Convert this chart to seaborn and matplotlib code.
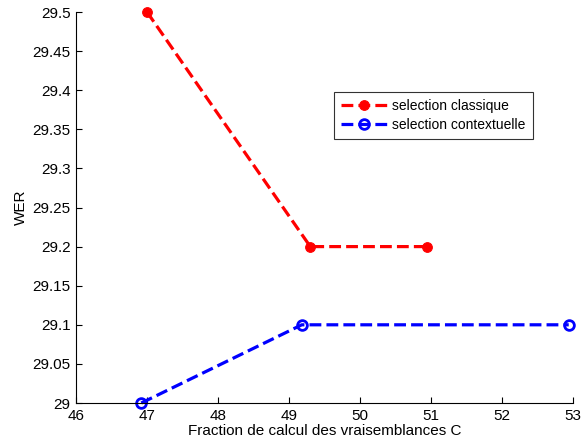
import matplotlib
matplotlib.use("Agg")
import matplotlib.pyplot as plt
import seaborn as sns
import pandas as pd

x_classique = [47.0, 49.3, 50.95]
y_classique = [29.5, 29.2, 29.2]
x_contextuelle = [46.92, 49.18, 52.94]
y_contextuelle = [29.0, 29.1, 29.1]
x_ticks = [46, 47, 48, 49, 50, 51, 52, 53]
y_ticks = [29, 29.05, 29.1, 29.15, 29.2, 29.25, 29.3, 29.35, 29.4, 29.45, 29.5]
y_ticklabels = ["29", "29.05", "29.1", "29.15", "29.2", "29.25", "29.3", "29.35", "29.4", "29.45", "29.5"]

sns.set_style("ticks")
plt.rcParams['font.family'] = ['Liberation Sans', 'DejaVu Sans']
plt.rcParams['text.color'] = 'black'
plt.rcParams['axes.labelcolor'] = 'black'

fig = plt.figure(figsize=(5.82, 4.48), dpi=100)
ax = fig.add_axes([76/582, 1 - 403/448, (573-76)/582, (403-12)/448])

df1 = pd.DataFrame({"x": x_classique, "y": y_classique})
df2 = pd.DataFrame({"x": x_contextuelle, "y": y_contextuelle})

sns.lineplot(data=df1, x="x", y="y", ax=ax, sort=False, color="#ff0000",
             linestyle="--", linewidth=2.3, marker="o", markersize=7,
             markerfacecolor="#ff0000", markeredgecolor="#ff0000",
             label="selection classique", clip_on=False, dashes=(3.4, 2.3))
sns.lineplot(data=df2, x="x", y="y", ax=ax, sort=False, color="#0000ff",
             linestyle="--", linewidth=2.3, marker="o", markersize=7,
             markerfacecolor="none", markeredgecolor="#0000ff", markeredgewidth=2,
             label="selection contextuelle", clip_on=False, dashes=(3.4, 2.3))

ax.set_xlim(46, 53)
ax.set_ylim(29, 29.5)
ax.set_xticks(x_ticks)
ax.set_xticklabels([str(t) for t in x_ticks])
ax.set_yticks(y_ticks)
ax.set_yticklabels(y_ticklabels)
ax.tick_params(direction="in", length=4, labelsize=11, colors="black", width=0.8, pad=4)
for s in ["top", "right"]:
    ax.spines[s].set_visible(False)
for s in ["left", "bottom"]:
    ax.spines[s].set_color("black")
    ax.spines[s].set_linewidth(0.8)

ax.set_xlabel("Fraction de calcul des vraisemblances C", fontsize=11, labelpad=1)
ax.set_ylabel("WER", fontsize=11, labelpad=3)

leg = ax.legend(loc="upper left", bbox_to_anchor=((334-76)/497, (403-92)/391),
                fontsize=10, frameon=True, fancybox=False, edgecolor="black",
                handlelength=3.3, borderpad=0.5, labelspacing=0.35, handletextpad=0.4,
                borderaxespad=0)
leg.get_frame().set_linewidth(0.8)
for t in leg.get_texts():
    t.set_color("black")

fig.savefig("out.png", dpi=100)
